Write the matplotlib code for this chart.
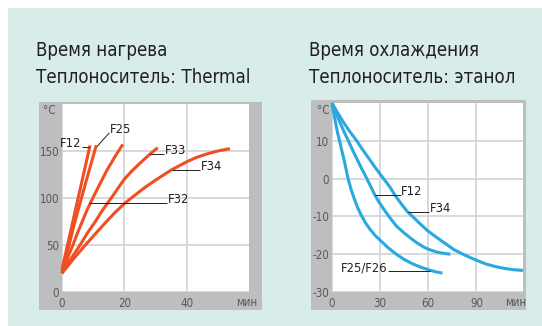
import matplotlib
matplotlib.use("Agg")
import matplotlib.pyplot as plt
from matplotlib import font_manager
from matplotlib.font_manager import FontProperties
from matplotlib.patches import Rectangle

# heating time, heat carrier "Thermal" (deg C over minutes)
heat_ticks_x = [0, 20, 40]
heat_ticks_y = [0, 50, 100, 150]
heat_f12_x = [0, 3, 6, 9]
heat_f12_y = [24, 68, 112, 156]
heat_f25_x = [0, 4, 8, 11]
heat_f25_y = [20, 73, 121, 156]
heat_f32_x = [0, 2, 3.5, 5, 6.5, 8, 9.9, 12, 14.5, 17, 19.5]
heat_f32_y = [20, 38, 50, 63, 75, 87, 100, 114, 130, 144, 157]
heat_f33_x = [0, 3, 6, 8, 10.5, 13, 15.8, 18, 20, 22.5, 25, 28, 30.7]
heat_f33_y = [20, 36, 51, 62, 74, 87, 100, 110.5, 120, 129, 137, 146, 153.6]
heat_f34_x = [0, 4, 7.5, 11, 14, 17, 20, 23, 26.5, 30, 34.9, 40, 43, 46.6, 50, 53.9]
heat_f34_y = [20, 36.5, 50, 63, 74, 84.5, 94, 102, 111, 119, 129.5, 138.5, 143, 147, 150, 152.5]

# cooling time, heat carrier ethanol
cool_ticks_x = [0, 30, 60, 90]
cool_ticks_y = [-30, -20, -10, 0, 10]
cool_f25_x = [0, 1, 2.2, 3.4, 4.7, 6, 7.5, 10, 12, 14, 16, 18, 21, 24, 27,
              30, 35, 40, 45, 50, 55, 60, 64, 68.8]
cool_f25_y = [20, 17.5, 14.8, 12.3, 10, 7.6, 5, 0, -3, -5.5, -7.7, -9.5, -11.8, -13.6, -15.1,
              -16.3, -18.3, -20, -21.4, -22.5, -23.4, -24.1, -24.6, -25]
cool_f12_x = [0, 2.5, 5, 7.5, 10.2, 13, 16, 18.5, 21, 23.8, 26.5, 29, 31, 33.4, 35.8,
              40, 45, 50, 54, 58, 62, 66, 70, 73.8]
cool_f12_y = [20, 17.3, 14.8, 12.4, 10, 7.4, 4.8, 2.6, 0.6, -1.8, -4.2, -6, -7.3, -8.8, -10.2,
              -12.5, -14.4, -16.1, -17.3, -18.3, -19, -19.5, -19.8, -20]
cool_f34_x = [0, 3.5, 7, 11, 15.4, 19, 23, 27.5, 32.1, 36, 39.4, 43, 47.1, 50.4, 55,
              59.6, 65, 70, 76, 83, 90, 96, 102, 108, 113, 119]
cool_f34_y = [20, 17.4, 15, 12.5, 10, 7.7, 5.3, 2.6, 0, -2.2, -4.5, -6.6, -8.8, -10.1, -12,
              -13.8, -15.5, -17, -18.8, -20.3, -21.6, -22.6, -23.3, -23.8, -24.1, -24.3]

W, H = 542, 326
TEAL = "#d8ecea"
FRAME = "#bcbec0"
GRID = "#d1d3d4"
RED = "#f04e23"
BLUE = "#29a9e0"
INK = "#231f20"
TICK = "#58595b"


def narrow_font():
    # the reference uses a condensed face; take one if any is installed
    fonts = font_manager.fontManager.ttflist
    for pref in ["Liberation Sans Narrow", "DejaVu Sans", "Noto Sans", "Roboto", "Open Sans", "Lato"]:
        for f in fonts:
            fn = f.fname.lower()
            if f.name != pref or f.style != "normal" or f.weight not in (400, "normal", "regular"):
                continue
            if "extra" in fn or "semi" in fn or "ultra" in fn:
                continue
            if f.stretch == "condensed" or "narrow" in fn or "condensed" in fn:
                return f.fname
    return None


NARROW = narrow_font()
plt.rcParams["font.family"] = ["DejaVu Sans"]
plt.rcParams["axes.unicode_minus"] = False

if NARROW:
    SIZES = {"title": 13.4, "lab": 9.3, "tick": 8.3}
else:
    SIZES = {"title": 12.3, "lab": 8.8, "tick": 7.8}


def fp(kind):
    if NARROW:
        return FontProperties(fname=NARROW, size=SIZES[kind])
    return FontProperties(family="DejaVu Sans", size=SIZES[kind])


def box(fig, x0, y0, x1, y1, color, z):
    # pixel box, origin at top left of the picture
    fig.add_artist(Rectangle((x0 / W, 1 - y1 / H), (x1 - x0) / W, (y1 - y0) / H,
                             transform=fig.transFigure, color=color, lw=0, zorder=z))


def panel(fig, rect, xlim, ylim, xt, yt):
    x0, y0, x1, y1 = rect
    ax = fig.add_axes([x0 / W, 1 - y1 / H, (x1 - x0) / W, (y1 - y0) / H])
    ax.set_facecolor("white")
    for s in ax.spines.values():
        s.set_visible(False)
    ax.set_xlim(*xlim)
    ax.set_ylim(*ylim)
    ax.set_xticks(xt)
    ax.set_yticks(yt)
    ax.tick_params(length=0, labelcolor=TICK)
    ax.tick_params(axis="x", pad=3.5)
    ax.tick_params(axis="y", pad=2)
    for t in ax.get_xticklabels() + ax.get_yticklabels():
        t.set_fontproperties(fp("tick"))
    ax.grid(color=GRID, lw=1.2)
    ax.set_axisbelow(True)
    return ax


def label(ax, text, x, y, x0, x1, ha="left"):
    ax.plot([x0, x1], [y, y], color=INK, lw=0.7, solid_capstyle="butt")
    ax.text(x, y, text, ha=ha, va="baseline", color=INK, fontproperties=fp("lab"))


fig = plt.figure(figsize=(W / 100, H / 100), dpi=100)
fig.patch.set_facecolor("white")
box(fig, 8, 8, W, H, TEAL, -3)
box(fig, 39, 102, 262, 310, FRAME, -2)
box(fig, 311, 100, 526, 310, FRAME, -2)

# titles
fig.text(36 / W, 1 - 56 / H, "Время нагрева", color=INK, fontproperties=fp("title"))
fig.text(36 / W, 1 - 83 / H, "Теплоноситель: Thermal", color=INK, fontproperties=fp("title"))
fig.text(309 / W, 1 - 56 / H, "Время охлаждения", color=INK, fontproperties=fp("title"))
fig.text(309 / W, 1 - 83 / H, "Теплоноситель: этанол", color=INK, fontproperties=fp("title"))

# left: heating
ax1 = panel(fig, (62, 104, 249, 292), (0, 60), (0, 200), heat_ticks_x, heat_ticks_y)
for xs, ys in [(heat_f12_x, heat_f12_y), (heat_f25_x, heat_f25_y), (heat_f32_x, heat_f32_y),
               (heat_f33_x, heat_f33_y), (heat_f34_x, heat_f34_y)]:
    ax1.plot(xs, ys, color=RED, lw=2.2, solid_capstyle="butt", solid_joinstyle="round", clip_on=False)
label(ax1, "F12", 6.3, 154, 6.3, 8.8, ha="right")
ax1.plot([11.3, 15.1], [155, 169], color=INK, lw=0.7)
ax1.text(15.3, 169.6, "F25", va="baseline", color=INK, fontproperties=fp("lab"))
label(ax1, "F33", 32.9, 146.5, 28.2, 32.8)
label(ax1, "F34", 44.6, 129.5, 35.2, 44.4)
label(ax1, "F32", 33.9, 95.1, 8.8, 33.7)
fig.text(43 / W, 1 - 110 / H, "°C", color=TICK, va="center", fontproperties=fp("tick"))
fig.text(257 / W, 1 - 303 / H, "мин", color=TICK, va="center", ha="right", fontproperties=fp("tick"))

# right: cooling
ax2 = panel(fig, (332, 103, 523, 292), (0, 119), (-30, 20), cool_ticks_x, cool_ticks_y)
for xs, ys in [(cool_f25_x, cool_f25_y), (cool_f12_x, cool_f12_y), (cool_f34_x, cool_f34_y)]:
    ax2.plot(xs, ys, color=BLUE, lw=2.2, solid_capstyle="butt", solid_joinstyle="round", clip_on=False)
label(ax2, "F12", 42.9, -4.3, 26.5, 42.7)
label(ax2, "F34", 60.8, -8.8, 47.1, 60.6)
label(ax2, "F25/F26", 5.4, -24.5, 34.6, 61.3)
fig.text(317 / W, 1 - 110 / H, "°C", color=TICK, va="center", fontproperties=fp("tick"))
fig.text(526 / W, 1 - 303 / H, "мин", color=TICK, va="center", ha="right", fontproperties=fp("tick"))

fig.savefig("out.png", dpi=100)
